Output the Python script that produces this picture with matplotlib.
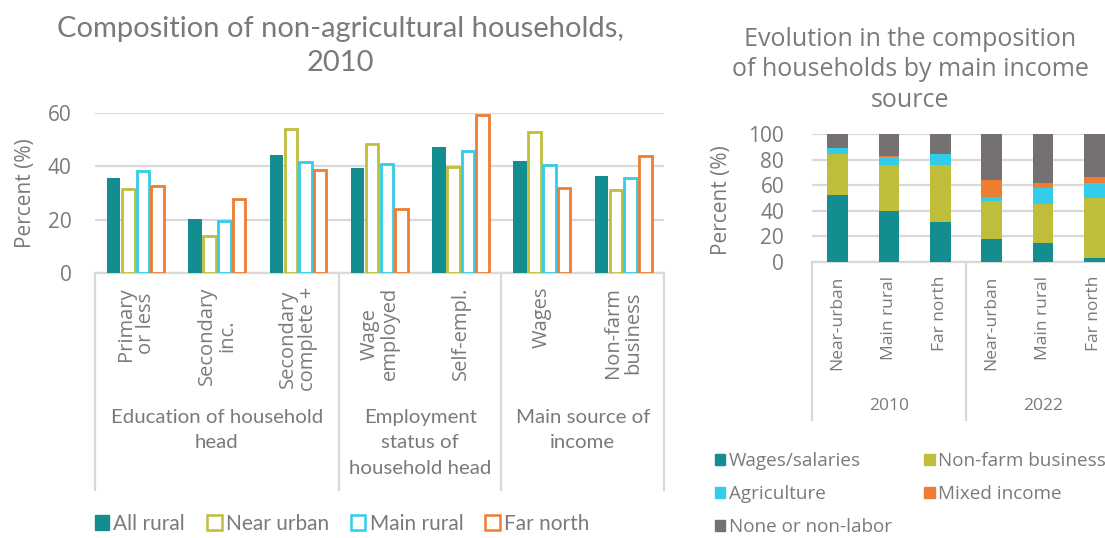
import matplotlib
matplotlib.use("Agg")
import matplotlib.pyplot as plt
from matplotlib.patches import Patch
from matplotlib.lines import Line2D

# ---------------- data ----------------
left_categories = ["Primary\nor less", "Secondary\ninc.", "Secondary\ncomplete +",
                   "Wage\nemployed", "Self-empl.", "Wages", "Non-farm\nbusiness"]
left_groups = ["Education of household\nhead", "Employment\nstatus of\nhousehold head",
               "Main source of\nincome"]
left_group_sizes = [3, 2, 2]
left_series = ["All rural", "Near urban", "Main rural", "Far north"]
all_rural = [35.7, 20.2, 44.3, 39.4, 47.3, 42.0, 36.5]
near_urban = [31.5, 13.7, 54.1, 48.5, 39.9, 52.9, 31.2]
main_rural = [38.3, 19.6, 41.8, 40.9, 45.8, 40.4, 35.5]
far_north = [32.8, 27.9, 38.7, 23.9, 59.2, 31.9, 44.0]

right_categories = ["Near-urban", "Main rural", "Far north",
                    "Near-urban", "Main rural", "Far north"]
right_years = ["2010", "2022"]
right_series = ["Wages/salaries", "Non-farm business", "Agriculture",
                "Mixed income", "None or non-labor"]
wages_salaries = [52.5, 40.2, 31.0, 17.6, 14.7, 3.4]
non_farm_business = [31.5, 35.7, 44.9, 30.4, 30.7, 46.5]
agriculture = [4.7, 6.3, 8.1, 2.9, 12.6, 11.8]
mixed_income = [0.0, 1.0, 0.0, 13.4, 3.7, 4.4]
none_non_labor = [11.3, 16.8, 16.0, 35.7, 38.3, 33.9]

# ---------------- style ----------------
TEAL = "#138D90"
OLIVE = "#BFBE3A"
CYAN = "#33CCEA"
ORANGE = "#EE7D31"
GRAY = "#767171"
TXT = "#7A7A7A"
GRID = "#D9D9D9"
F_NARROW = "Lato"
F_WIDE = "Open Sans"

W, H = 1105, 538
fig = plt.figure(figsize=(W / 100, H / 100), dpi=100)


def fx(px):
    return px / W


def fy(py):
    return 1 - py / H


# ---------------- left chart ----------------
lx0, lx1, ly0, ly1 = 95, 664, 273, 113
axL = fig.add_axes([fx(lx0), fy(ly0), fx(lx1 - lx0), (ly0 - ly1) / H])
n = len(left_categories)
step = 0.18
width = 0.155
series_vals = [all_rural, near_urban, main_rural, far_north]
edge_cols = [TEAL, OLIVE, CYAN, ORANGE]
for k, (vals, col) in enumerate(zip(series_vals, edge_cols)):
    xs = [i + (k - 1.5) * step for i in range(n)]
    if k == 0:
        axL.bar(xs, vals, width=width + 0.01, color=col, edgecolor="none", zorder=3)
    else:
        axL.bar(xs, vals, width=width, facecolor="white", edgecolor=col,
                linewidth=2.0, zorder=3)
axL.set_xlim(-0.5, n - 0.5)
axL.set_ylim(0, 60)
axL.set_yticks([0, 20, 40, 60])
axL.yaxis.grid(True, color=GRID, linewidth=1.6, zorder=0)
axL.set_axisbelow(True)
for s in ["top", "right", "left"]:
    axL.spines[s].set_visible(False)
axL.spines["bottom"].set_color(GRID)
axL.spines["bottom"].set_linewidth(1.6)
axL.tick_params(axis="y", length=0, labelsize=15, labelcolor=TXT, pad=17)
axL.set_xticks([])
for lab in axL.get_yticklabels():
    lab.set_fontfamily(F_WIDE)
fig.text(fx(25), fy(193), "Percent (%)", rotation=90, ha="center", va="center",
         fontsize=15, color=TXT, family=F_WIDE)
fig.text(fx(340), fy(46), "Composition of non-agricultural households,\n2010",
         ha="center", va="center", fontsize=21, color=TXT, family=F_NARROW,
         linespacing=1.4)

slot = (lx1 - lx0) / n
for i, lab in enumerate(left_categories):
    cx = lx0 + (i + 0.5) * slot
    fig.text(fx(cx), fy(287), lab, rotation=90, ha="center", va="top",
             fontsize=14.5, color=TXT, family=F_WIDE, multialignment="center",
             linespacing=1.0)
bounds = [0]
for s in left_group_sizes:
    bounds.append(bounds[-1] + s)
for b in bounds:
    x = lx0 + b * slot
    fig.add_artist(Line2D([fx(x), fx(x)], [fy(ly0), fy(490)], color=GRID,
                          linewidth=1.6, transform=fig.transFigure))
for g, lab in enumerate(left_groups):
    cx = lx0 + (bounds[g] + bounds[g + 1]) / 2 * slot
    fig.text(fx(cx), fy(409), lab, ha="center", va="top", fontsize=14.7,
             color=TXT, family=F_NARROW, linespacing=1.6)

handles = [Patch(facecolor=TEAL, edgecolor=TEAL)] + [
    Patch(facecolor="white", edgecolor=c, linewidth=1.8) for c in edge_cols[1:]]
fig.legend(handles, left_series, loc="center", bbox_to_anchor=(fx(342), fy(524)),
           ncol=4, frameon=False, handlelength=0.7, handleheight=0.7,
           handletextpad=0.2, columnspacing=1.05,
           prop={"family": F_NARROW, "size": 15}, labelcolor=TXT)

# ---------------- right chart ----------------
rx0, rx1, ry0, ry1 = 812, 1120, 262, 134
axR = fig.add_axes([fx(rx0), fy(ry0), fx(rx1 - rx0), (ry0 - ry1) / H])
stack = [wages_salaries, non_farm_business, agriculture, mixed_income, none_non_labor]
cols = [TEAL, OLIVE, CYAN, ORANGE, GRAY]
xs = list(range(len(right_categories)))
bottom = [0.0] * len(xs)
for vals, col in zip(stack, cols):
    axR.bar(xs, vals, bottom=bottom, width=0.4, color=col, zorder=3)
    bottom = [b + v for b, v in zip(bottom, vals)]
axR.set_xlim(-0.5, len(xs) - 0.5)
axR.set_ylim(0, 100)
axR.set_yticks([0, 20, 40, 60, 80, 100])
axR.yaxis.grid(True, color=GRID, linewidth=1.6, zorder=0)
axR.set_axisbelow(True)
for s in ["top", "right", "left"]:
    axR.spines[s].set_visible(False)
axR.spines["bottom"].set_color(GRID)
axR.spines["bottom"].set_linewidth(1.6)
axR.tick_params(axis="y", length=0, labelsize=15, labelcolor=TXT, pad=20)
axR.set_xticks([])
for lab in axR.get_yticklabels():
    lab.set_fontfamily(F_WIDE)
fig.text(fx(722), fy(200), "Percent (%)", rotation=90, ha="center", va="center",
         fontsize=15, color=TXT, family=F_WIDE)
fig.text(fx(910), fy(70), "Evolution in the composition\nof households by main income\nsource",
         ha="center", va="center", fontsize=18, color=TXT, family=F_WIDE,
         linespacing=1.3)

rslot = (rx1 - rx0) / len(xs)
for i, lab in enumerate(right_categories):
    cx = rx0 + (i + 0.5) * rslot
    fig.text(fx(cx), fy(276), lab, rotation=90, ha="center", va="top",
             fontsize=12.5, color=TXT, family=F_WIDE)
for b in [0, 3, 6]:
    x = rx0 + b * rslot
    fig.add_artist(Line2D([fx(x), fx(x)], [fy(ry0), fy(420)], color=GRID,
                          linewidth=1.6, transform=fig.transFigure))
for g, yr in enumerate(right_years):
    cx = rx0 + (g * 3 + 1.5) * rslot
    fig.text(fx(cx), fy(406), yr, ha="center", va="center", fontsize=12.5,
             color=TXT, family=F_WIDE)

# legend entries listed row by row across two columns
rhandles = [Patch(facecolor=c, edgecolor=c) for c in cols]
order = [0, 2, 4, 1, 3]
fig.legend([rhandles[i] for i in order], [right_series[i] for i in order],
           loc="upper left", bbox_to_anchor=(fx(698), fy(435)),
           ncol=2, frameon=False, handlelength=0.55, handleheight=0.55,
           handletextpad=0.2, columnspacing=1.7, labelspacing=0.8,
           prop={"family": F_WIDE, "size": 13.6}, labelcolor=TXT)

fig.savefig("out.png", dpi=100, facecolor="white")
